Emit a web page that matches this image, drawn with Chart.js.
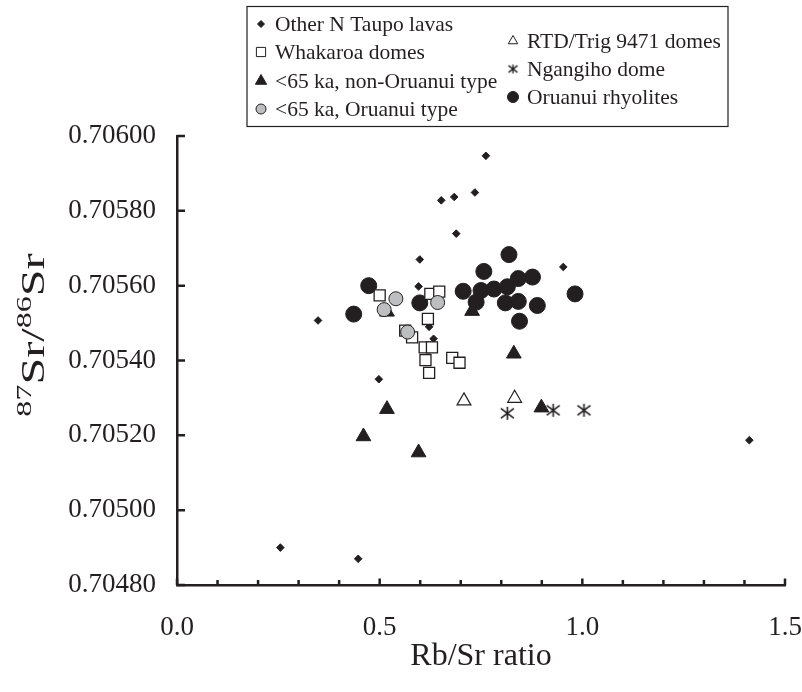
<!DOCTYPE html>
<html>
<head>
<meta charset="utf-8">
<script src="https://cdn.jsdelivr.net/npm/chart.js@4.4.1/dist/chart.umd.min.js"></script>
<style>
  html, body { margin: 0; padding: 0; background: #fff; }
  canvas { display: block; }
</style>
</head>
<body>
<canvas id="c" width="802" height="692"></canvas>
<script>
const INK  = '#231f20';
const GREY = '#bcbec0';
const FONT = '"Liberation Serif", "Times New Roman", serif';

// ── data (Rb/Sr ratio, 87Sr/86Sr) ─────────────────────────────
const otherX = [0.255, 0.447, 0.348, 0.498, 0.596, 0.599, 0.622, 0.633, 0.652, 0.684, 0.689, 0.735, 0.762, 0.953, 1.412];
const otherY = [0.70490, 0.70487, 0.705507, 0.70535, 0.705598, 0.70567, 0.70549, 0.705458, 0.705828, 0.705837, 0.705739, 0.705849, 0.705947, 0.70565, 0.705187];

const whakX = [0.500, 0.625, 0.647, 0.619, 0.563, 0.580, 0.611, 0.629, 0.613, 0.679, 0.697, 0.622];
const whakY = [0.705574, 0.705578, 0.705584, 0.705511, 0.70548, 0.705462, 0.705435, 0.705435, 0.705401, 0.705407, 0.705394, 0.705367];

const nonOruX = [0.518, 0.728, 0.831, 0.518, 0.899, 0.460, 0.596];
const nonOruY = [0.705530, 0.705532, 0.705418, 0.705270, 0.705274, 0.705197, 0.705154];

const oruTypeX = [0.540, 0.511, 0.643, 0.569];
const oruTypeY = [0.705565, 0.705536, 0.705555, 0.705476];

const rtdX = [0.708, 0.833];
const rtdY = [0.705292, 0.705299];

const ngangX = [0.815, 0.928, 1.004];
const ngangY = [0.705259, 0.705267, 0.705267];

const oruX = [0.473, 0.436, 0.599, 0.706, 0.750, 0.782, 0.815, 0.842, 0.877, 0.757, 0.819, 0.738, 0.810, 0.842, 0.889, 0.845, 0.982];
const oruY = [0.705600, 0.705524, 0.705554, 0.705585, 0.705587, 0.705591, 0.705597, 0.705619, 0.705623, 0.705638, 0.705683, 0.705556, 0.705554, 0.705558, 0.705547, 0.705505, 0.705578];

const yTicks      = [0.7048, 0.7050, 0.7052, 0.7054, 0.7056, 0.7058, 0.7060];
const xTicks      = [0, 0.1, 0.2, 0.3, 0.4, 0.5, 0.6, 0.7, 0.8, 0.9, 1.0, 1.1, 1.2, 1.3, 1.4, 1.5];
const xLabelTicks = [0, 0.5, 1.0, 1.5];

const xTitle = 'Rb/Sr ratio';

function pts(xs, ys) { return xs.map((x, i) => ({ x, y: ys[i] })); }

// asterisk marker (vertical bar + X)
function makeAsterisk(r, lw) {
    const s = Math.ceil(r * 2 + 4);
    const cv = document.createElement('canvas');
    cv.width = s; cv.height = s;
    const g = cv.getContext('2d');
    g.strokeStyle = INK;
    g.lineWidth = lw;
    const c = s / 2;
    g.beginPath();
    g.moveTo(c, c - r);            g.lineTo(c, c + r);
    g.moveTo(c - r, c - r * 0.75); g.lineTo(c + r, c + r * 0.75);
    g.moveTo(c - r, c + r * 0.75); g.lineTo(c + r, c - r * 0.75);
    g.stroke();
    return cv;
}
const ASTER     = makeAsterisk(6.5, 1.6);
const ASTER_LEG = makeAsterisk(4.5, 1.3);

// ── legend (two columns, boxed) ───────────────────────────────
const legendItems = [
    { text: 'Other N Taupo lavas',        style: 'rectRot',  r: 3.5, fill: INK,   stroke: INK, x: 261, y: 24 },
    { text: 'Whakaroa domes',             style: 'rect',     r: 6.5, fill: '#fff', stroke: INK, x: 261, y: 52 },
    { text: '<65 ka, non-Oruanui type',   style: 'triangle', r: 6.5, fill: INK,   stroke: INK, x: 261, y: 81 },
    { text: '<65 ka, Oruanui type',       style: 'circle',   r: 5,   fill: GREY,  stroke: INK, x: 261, y: 109 },
    { text: 'RTD/Trig 9471 domes',        style: 'triangle', r: 5.5, fill: '#fff', stroke: INK, x: 513, y: 41 },
    { text: 'Ngangiho dome',              style: ASTER_LEG,  r: 4.5, fill: INK,   stroke: INK, x: 513, y: 69 },
    { text: 'Oruanui rhyolites',          style: 'circle',   r: 5.5, fill: INK,   stroke: INK, x: 513, y: 97 },
];

function drawMarker(ctx, it) {
    const { x, y, r } = it;
    if (typeof it.style === 'object') {
        ctx.drawImage(it.style, x - it.style.width / 2, y - it.style.height / 2);
        return;
    }
    ctx.save();
    ctx.fillStyle = it.fill;
    ctx.strokeStyle = it.stroke;
    ctx.lineWidth = 1;
    ctx.beginPath();
    if (it.style === 'circle') {
        ctx.arc(x, y, r, 0, Math.PI * 2);
    } else if (it.style === 'rect') {
        const h = r * Math.SQRT1_2;
        ctx.rect(x - h, y - h, h * 2, h * 2);
    } else if (it.style === 'rectRot') {
        ctx.moveTo(x, y - r); ctx.lineTo(x + r, y); ctx.lineTo(x, y + r); ctx.lineTo(x - r, y);
        ctx.closePath();
    } else if (it.style === 'triangle') {
        ctx.moveTo(x, y - r);
        ctx.lineTo(x + r * 0.866, y + r * 0.5);
        ctx.lineTo(x - r * 0.866, y + r * 0.5);
        ctx.closePath();
    }
    ctx.fill();
    ctx.stroke();
    ctx.restore();
}

const boxLegend = {
    id: 'boxLegend',
    afterDraw(chart) {
        const ctx = chart.ctx;
        ctx.save();
        ctx.strokeStyle = INK;
        ctx.lineWidth = 1.2;
        ctx.strokeRect(247, 6.5, 481, 120);
        ctx.font = '21.5px ' + FONT;
        ctx.fillStyle = INK;
        ctx.textBaseline = 'middle';
        ctx.textAlign = 'left';
        legendItems.forEach(it => {
            drawMarker(ctx, it);
            ctx.fillText(it.text, it.x + 14, it.y + 1);
        });
        ctx.restore();
    }
};

// inward tick marks + y title with superscripts
const axisDecor = {
    id: 'axisDecor',
    afterDraw(chart) {
        const ctx = chart.ctx;
        const xs = chart.scales.x, ys = chart.scales.y;
        const area = chart.chartArea;
        ctx.save();
        ctx.strokeStyle = INK;
        ctx.lineWidth = 2.5;
        ctx.beginPath();
        yTicks.forEach(v => {
            const py = ys.getPixelForValue(v);
            ctx.moveTo(area.left, py);
            ctx.lineTo(area.left + 8, py);
        });
        xTicks.forEach(v => {
            const px = xs.getPixelForValue(v);
            const major = xLabelTicks.some(m => Math.abs(m - v) < 1e-9);
            ctx.moveTo(px, area.bottom);
            ctx.lineTo(px, area.bottom - (major ? 6.5 : 5));
        });
        ctx.stroke();

        // y title: 87Sr/86Sr (stretched along the text like the original)
        const parts = [
            { t: '87', sup: true }, { t: 'Sr' }, { t: '/' },
            { t: '86', sup: true }, { t: 'Sr' },
        ];
        const big = '33px ' + FONT, small = '22px ' + FONT;
        let total = 0;
        parts.forEach(p => {
            ctx.font = p.sup ? small : big;
            p.w = ctx.measureText(p.t).width;
            total += p.w;
        });
        ctx.translate(44, 335);
        ctx.rotate(-Math.PI / 2);
        ctx.scale(1.46, 1);
        ctx.fillStyle = INK;
        ctx.textBaseline = 'alphabetic';
        ctx.textAlign = 'left';
        let cx = -total / 2;
        parts.forEach(p => {
            ctx.font = p.sup ? small : big;
            ctx.fillText(p.t, cx, p.sup ? -13 : 0);
            cx += p.w;
        });
        ctx.restore();
    }
};

new Chart(document.getElementById('c'), {
    type: 'scatter',
    data: {
        datasets: [
            { label: '<65 ka, Oruanui type', data: pts(oruTypeX, oruTypeY), pointStyle: 'circle', pointRadius: 7,
              backgroundColor: GREY, borderColor: INK, borderWidth: 1, order: 1 },
            { label: 'Whakaroa domes', data: pts(whakX, whakY), pointStyle: 'rect', pointRadius: 7.8,
              backgroundColor: '#fff', borderColor: INK, borderWidth: 1.3, order: 2 },
            { label: 'Other N Taupo lavas', data: pts(otherX, otherY), pointStyle: 'rectRot', pointRadius: 3.8,
              backgroundColor: INK, borderColor: INK, borderWidth: 1, order: 3 },
            { label: '<65 ka, non-Oruanui type', data: pts(nonOruX, nonOruY), pointStyle: 'triangle', pointRadius: 8.5,
              backgroundColor: INK, borderColor: INK, borderWidth: 1, order: 4 },
            { label: 'RTD/Trig 9471 domes', data: pts(rtdX, rtdY), pointStyle: 'triangle', pointRadius: 8,
              backgroundColor: '#fff', borderColor: INK, borderWidth: 1.2, order: 4 },
            { label: 'Ngangiho dome', data: pts(ngangX, ngangY), pointStyle: ASTER, pointRadius: 7,
              backgroundColor: INK, borderColor: INK, order: 4 },
            { label: 'Oruanui rhyolites', data: pts(oruX, oruY), pointStyle: 'circle', pointRadius: 8,
              backgroundColor: INK, borderColor: INK, borderWidth: 1, order: 5 },
        ],
    },
    options: {
        responsive: false,
        animation: false,
        events: [],
        layout: { padding: { top: 136, right: 17, left: 0, bottom: 0 } },
        plugins: { legend: { display: false }, tooltip: { enabled: false } },
        elements: { point: { hoverRadius: 0 } },
        scales: {
            x: {
                type: 'linear', min: 0, max: 1.5,
                afterFit(scale) {
                    scale.height = 107;
                    scale.paddingLeft = 0;
                    scale.paddingRight = 0;
                },
                afterBuildTicks(scale) { scale.ticks = xTicks.map(v => ({ value: v })); },
                grid: { display: false, drawTicks: false },
                border: { display: true, color: INK, width: 2.5 },
                ticks: {
                    autoSkip: false, maxRotation: 0, padding: 27, color: INK,
                    font: { family: FONT, size: 27 },
                    callback: v => xLabelTicks.some(m => Math.abs(m - v) < 1e-9) ? v.toFixed(1) : '',
                },
                title: {
                    display: true, text: xTitle, color: INK,
                    font: { family: FONT, size: 32 },
                    padding: { top: 0, bottom: 16 },
                },
            },
            y: {
                type: 'linear', min: 0.7048, max: 0.7060,
                afterFit(scale) { scale.width = 177; },
                afterBuildTicks(scale) { scale.ticks = yTicks.map(v => ({ value: v })); },
                grid: { display: false, drawTicks: false },
                border: { display: true, color: INK, width: 2.5 },
                ticks: {
                    padding: 21, color: INK,
                    font: { family: FONT, size: 27 },
                    callback: v => v.toFixed(5),
                },
            },
        },
    },
    plugins: [axisDecor, boxLegend],
});
</script>
</body>
</html>
